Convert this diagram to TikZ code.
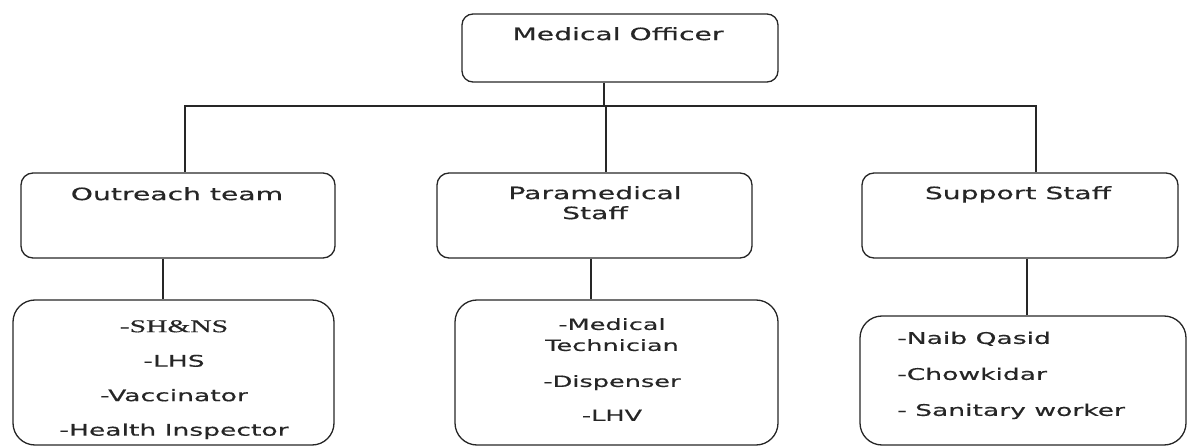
\documentclass[tikz,border=0pt]{standalone}
\usepackage{fontspec}
\newfontfamily\wsans[FakeStretch=1.66,FakeBold=0.5]{DejaVu Sans}
\newfontfamily\wserif[FakeStretch=1.64,FakeBold=0.5]{Liberation Serif}
\begin{document}
\begin{tikzpicture}[x=1pt,y=-1pt,
  box/.style={draw=black!85, line width=1.3pt, rounded corners=#1, inner sep=0pt},
  box/.default=11pt,
  txt/.style={inner sep=0pt, font=\wsans\fontsize{17}{20}\selectfont, text=black!85},
  link/.style={draw=black!85, line width=1.3pt}]
\useasboundingbox (0,0) rectangle (1189,446);
% boxes
\node[box, minimum width=316pt, minimum height=68pt] (MO) at (620,48) {};
\node[box=12pt, minimum width=314pt, minimum height=85pt] (OT) at (178,215.5) {};
\node[box=12pt, minimum width=315pt, minimum height=85pt] (PS) at (594.5,215.5) {};
\node[box=12pt, minimum width=316pt, minimum height=85pt] (SS) at (1020,215.5) {};
\node[box=22pt, minimum width=321pt, minimum height=145pt] (OL) at (173.5,372.5) {};
\node[box=22pt, minimum width=323pt, minimum height=145pt] (PL) at (616.5,372.5) {};
\node[box=22pt, minimum width=326pt, minimum height=129pt] (SL) at (1023,380.5) {};
% texts
\node[txt, anchor=north] (tMO) at (618,27) {Medical Officer};
\node[txt, anchor=north] (tOT) at (177,187) {Outreach team};
\node[txt, anchor=north, align=center] (tPS) at (595,186) {Paramedical\\Staff};
\node[txt, anchor=north] (tSS) at (1018,186) {Support Staff};
\node[txt, anchor=north, align=center, font=\wsans\fontsize{16}{34.5}\selectfont] (tOL) at (174,320)
  {{\wserif\fontsize{18}{34.5}\selectfont -SH\&NS}\\-LHS\\-Vaccinator\\-Health Inspector};
\node[txt, anchor=north, align=center, font=\wsans\fontsize{15.4}{21}\selectfont] (tPL) at (612,318)
  {-Medical\\Technician\\[15pt]-Dispenser\\[13pt]-LHV};
\node[txt, anchor=north west, align=left, font=\wsans\fontsize{16}{36}\selectfont] (tSL) at (897,331.5)
  {-Naib Qasid\\-Chowkidar\\- Sanitary worker};
% connectors
\coordinate (bL) at (185,106);
\coordinate (bM) at (604,106);
\coordinate (bP) at (606,106);
\coordinate (bR) at (1036,106);
\coordinate (dL) at (163,0);
\coordinate (dP) at (591,0);
\coordinate (dR) at (1027,0);
\draw[link] (MO.south -| bM) -- (bM);
\draw[link] ([xshift=-0.65pt]bL) -- ([xshift=0.65pt]bR);
\draw[link] (bL) -- (OT.north -| bL);
\draw[link] (bP) -- (PS.north -| bP);
\draw[link] (bR) -- (SS.north -| bR);
\draw[link] (OT.south -| dL) -- (OL.north -| dL);
\draw[link] (PS.south -| dP) -- (PL.north -| dP);
\draw[link] (SS.south -| dR) -- (SL.north -| dR);
\end{tikzpicture}
\end{document}
